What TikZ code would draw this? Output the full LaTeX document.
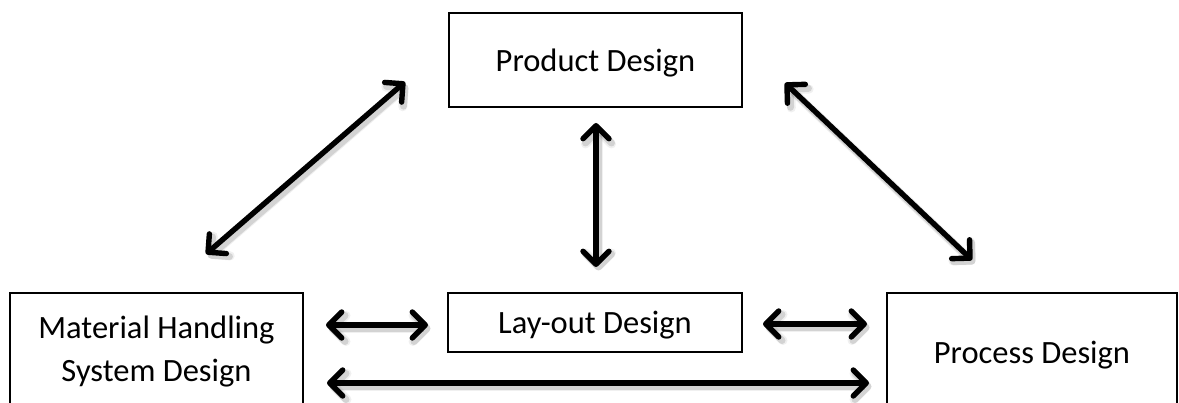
\documentclass[tikz,border=0pt]{standalone}
\usepackage{fontspec}
\setmainfont{Carlito}
\usetikzlibrary{arrows.meta}
\begin{document}
\begin{tikzpicture}[x=1pt,y=1pt,
  box/.style={draw=black, line width=2pt, inner sep=0pt, align=center,
    font=\fontsize{32.5}{43}\selectfont},
  oneline/.style={text depth=0pt},
  barb/.tip={Straight Barb[length=13pt,width=26pt,line cap=round,line join=round]},
  link/.style={line width=5.4pt, barb-barb},
  linkshadow/.style={line width=7pt, barb-barb, draw=black, opacity=0.12,
    transform canvas={shift={(2.5pt,-3.5pt)}}},
]
\useasboundingbox (0,0) rectangle (1179,403);
\clip (0,0) rectangle (1179,403);

% design areas
\node[box, oneline, minimum width=293, minimum height=94] (prod) at (595.5,343) {Product Design};
\node[box, oneline, minimum width=294, minimum height=59] (lay) at (595,80.5) {Lay-out Design};
\node[box, minimum width=293, minimum height=118] (mh) at (156.5,51) {Material Handling\\System Design};
\node[box, oneline, minimum width=290, minimum height=118] (proc) at (1032,51) {Process Design};

% free ends of the two-way arrows
\coordinate (pl) at (405,321);  \coordinate (ml) at (206,149);
\coordinate (pr) at (785,320);  \coordinate (cr) at (972,143);
\coordinate (pb) at (596,280);  \coordinate (lt) at (596,136);
\coordinate (mr) at (326,78);   \coordinate (ll) at (428,78);
\coordinate (lr) at (763,79);   \coordinate (cl) at (867,79);
\coordinate (mb) at (327,20);   \coordinate (cb) at (869,20);

% soft drop shadows
\foreach \a/\b in {pl/ml, pr/cr, pb/lt, mr/ll, lr/cl, mb/cb}{
  \draw[linkshadow] (\a) -- (\b);
  \draw[linkshadow, line width=9pt, opacity=0.06] (\a) -- (\b);
}
% arrows
\foreach \a/\b in {pl/ml, pr/cr, pb/lt, mr/ll, lr/cl, mb/cb}{
  \draw[link] (\a) -- (\b);
}
\end{tikzpicture}
\end{document}
